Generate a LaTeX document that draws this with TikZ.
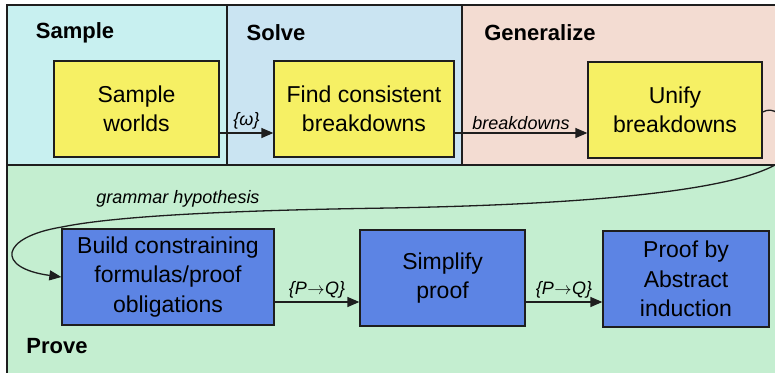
\documentclass[tikz,border=0pt]{standalone}
\usepackage{fontspec}
\setmainfont{Liberation Sans}
\usetikzlibrary{arrows.meta,calc}

\definecolor{sampbg}{RGB}{200,240,240}
\definecolor{solvbg}{RGB}{202,228,242}
\definecolor{genbg}{RGB}{243,220,210}
\definecolor{provebg}{RGB}{196,238,208}
\definecolor{yelbox}{RGB}{246,240,100}
\definecolor{bluebox}{RGB}{92,132,228}
\definecolor{edgeline}{RGB}{30,30,30}

\newcommand{\implarrow}{\kern0.5pt$\rightarrow$\kern0.5pt}

\tikzset{
  panel/.style={draw=edgeline, line width=1.1pt},
  stage/.style={font=\fontsize{22}{26}\selectfont\bfseries, inner sep=0pt},
  procbox/.style={draw=edgeline, line width=1.3pt, align=center, inner sep=0pt,
    font=\fontsize{23}{29.5}\selectfont},
  yproc/.style={procbox, fill=yelbox},
  bproc/.style={procbox, fill=bluebox},
  flow/.style={draw=edgeline, line width=1.3pt, -{Triangle[length=12pt,width=10pt]}},
  flowlabel/.style={font=\fontsize{18}{22}\selectfont\itshape, inner sep=1pt}
}

\begin{document}
\begin{tikzpicture}[x=1pt,y=-1pt]
\useasboundingbox (0,0) rectangle (775,372);
\begin{scope}
\clip (0,0) rectangle (775,372);

% panels
\fill[white] (0,0) rectangle (775,372);
\draw[panel, fill=sampbg] (7,5) rectangle (227,165);
\draw[panel, fill=solvbg] (227,5) rectangle (462,165);
\draw[panel, fill=genbg] (462,5) rectangle (800,165);
\draw[panel, fill=provebg] (7,165) rectangle (800,400);

% stage titles
\node[stage] (tsample) at (75,33) {Sample};
\node[stage] (tsolve) at (276,33) {Solve};
\node[stage] (tgen) at (540,33) {Generalize};
\node[stage] (tprove) at (57,346) {Prove};

% process boxes
\node[yproc, minimum width=165pt, minimum height=96pt] (sw) at (136.5,109) {Sample\\worlds};
\node[yproc, minimum width=180pt, minimum height=96pt] (fc) at (364,109) {Find consistent\\breakdowns};
\node[yproc, minimum width=174pt, minimum height=96pt] (ub) at (675,110) {Unify\\breakdowns};
\node[bproc, minimum width=212pt, minimum height=96pt] (bc) at (168,277) {Build constraining\\formulas/proof\\obligations};
\node[bproc, minimum width=165pt, minimum height=96pt] (sp) at (442.5,278) {Simplify\\proof};
\node[bproc, minimum width=166pt, minimum height=96pt] (pa) at (686,279) {Proof by\\Abstract\\induction};

% arrow heights
\coordinate (rowA) at (0,133);
\coordinate (rowB) at (0,302);
\coordinate (hypA) at (0,112);
\coordinate (hypB) at (0,277);

% connectors
\draw[flow] (sw.east |- rowA) -- node[flowlabel, above, yshift=2pt] (l1) {\{ω\}} (fc.west |- rowA);
\draw[flow] (fc.east |- rowA) -- node[flowlabel, above, yshift=2pt] (l2) {breakdowns} (ub.west |- rowA);
\draw[flow] (bc.east |- rowB) -- node[flowlabel, above, yshift=2pt] (l3) {\{P\implarrow Q\}} (sp.west |- rowB);
\draw[flow] (sp.east |- rowB) -- node[flowlabel, above, yshift=2pt] (l4) {\{P\implarrow Q\}} (pa.west |- rowB);

% feedback from generalization into the proof stage
\coordinate (h1) at (775,165);
\coordinate (h2) at (390,208);
\coordinate (h3) at (62,227);
\draw[flow] (ub.east |- hypA) .. controls (785,100) and (800,150) .. (h1)
  .. controls (720,195) and (550,205) .. (h2)
  .. controls (250,210) and (120,215) .. (h3)
  .. controls (0,237) and (-5,268) .. (bc.west |- hypB);
\node[flowlabel] (l5) at (178,199) {grammar hypothesis};
\end{scope}
\end{tikzpicture}
\end{document}
